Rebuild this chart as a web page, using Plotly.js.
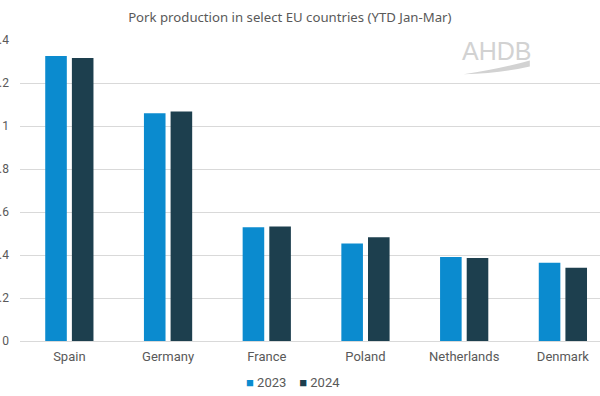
<!DOCTYPE html>
<html>
<head>
<meta charset="utf-8">
<script src="https://cdn.plot.ly/plotly-3.0.1.min.js"></script>
<style>html,body{margin:0;padding:0;background:#fff;}#chart{width:600px;height:396px;}</style>
</head>
<body>
<div id="chart"></div>
<script>
const countries = ["Spain", "Germany", "France", "Poland", "Netherlands", "Denmark"];
const values2023 = [1.326, 1.059, 0.529, 0.453, 0.391, 0.364];
const values2024 = [1.316, 1.068, 0.532, 0.482, 0.386, 0.341];
const seriesNames = ["2023", "2024"];
const seriesColors = ["#0B8BCF", "#1D3F4E"];
const yTicks = [0, 0.2, 0.4, 0.6, 0.8, 1, 1.2, 1.4];
const yTickText = ["0", "0.2", "0.4", "0.6", "0.8", "1", "1.2", "1.4"];

const traces = [
  {type: "bar", name: seriesNames[0], x: countries, y: values2023, marker: {color: seriesColors[0]}},
  {type: "bar", name: seriesNames[1], x: countries, y: values2024, marker: {color: seriesColors[1]}}
];

const legendText = seriesNames.map((n, i) =>
  '<span style="color:' + seriesColors[i] + '">■</span> ' + n).join('    ');

const layout = {
  width: 600, height: 396,
  margin: {l: 20, r: 0, t: 40, b: 55},
  paper_bgcolor: "#ffffff", plot_bgcolor: "#ffffff",
  barmode: "group", bargap: 0.46, bargroupgap: 0.19,
  showlegend: false,
  title: {text: "Pork production in select EU countries (YTD Jan-Mar)", x: 0.483, xanchor: "center", y: 0.955, yanchor: "middle",
          font: {family: "Noto Sans, Open Sans, sans-serif", size: 13.2, color: "#595959"}},
  xaxis: {range: [-0.5, 5.376], showgrid: false, showline: true, linecolor: "#d9d9d9", linewidth: 1, ticks: "",
          ticklabelstandoff: 3,
          tickfont: {family: "Roboto, sans-serif", size: 13, color: "#595959"}},
  yaxis: {range: [0, 1.4], tickvals: yTicks, ticktext: yTickText, showgrid: true, gridcolor: "#d9d9d9", gridwidth: 1,
          zeroline: false, showline: false, ticks: "", ticklabelstandoff: 10,
          tickfont: {family: "Roboto, sans-serif", size: 12, color: "#595959"}},
  annotations: [
    {text: legendText, xref: "paper", yref: "paper", x: 0.47, y: -0.137, xanchor: "center", yanchor: "middle",
     showarrow: false, font: {family: "Roboto, sans-serif", size: 13, color: "#595959"}},
    {text: "AHDB", xref: "paper", yref: "paper", x: 0.822, y: 0.962, xanchor: "center", yanchor: "middle",
     showarrow: false, font: {family: "Liberation Sans, Arial, sans-serif", size: 25, color: "#d2d2d2"}}
  ],
  shapes: [
    {type: "path", xref: "paper", yref: "paper",
     path: "M 0.765 0.886 Q 0.83 0.905 0.879 0.932 L 0.879 0.912 Q 0.83 0.89 0.765 0.886 Z",
     fillcolor: "#d2d2d2", line: {width: 0}}
  ]
};

Plotly.newPlot("chart", traces, layout, {displayModeBar: false, staticPlot: true});
</script>
</body>
</html>
